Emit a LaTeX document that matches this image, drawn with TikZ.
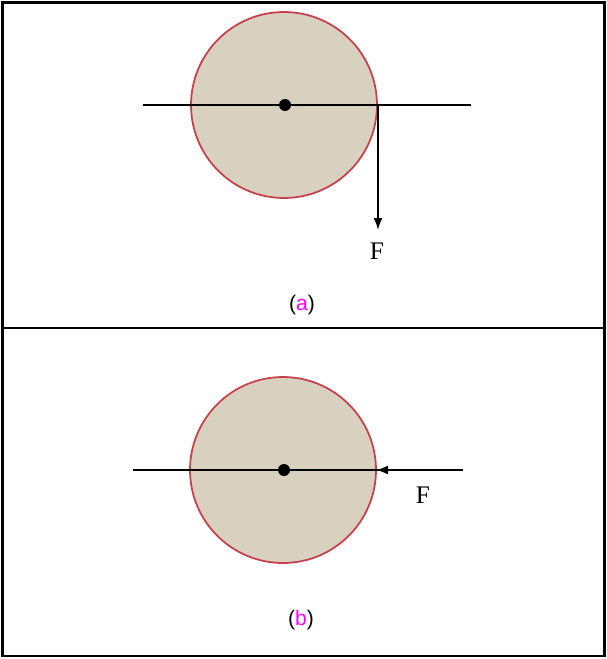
\documentclass[tikz,border=0pt]{standalone}
\usepackage{fontspec}
\setmainfont{Liberation Sans}
\newfontfamily\forcefont{Liberation Serif}
\usepackage{tikz}
\usetikzlibrary{arrows.meta}
\definecolor{diskfill}{HTML}{D8D1C0}
\definecolor{diskrim}{HTML}{C8404C}
\definecolor{tagpink}{HTML}{FF00FF}

\begin{document}
\begin{tikzpicture}[x=0.02cm,y=-0.02cm,font=\small]
  \tikzset{
    disk/.style={circle,fill=diskfill,draw=diskrim,line width=1pt,
                 minimum size=3.72cm,inner sep=0pt},
    pivot/.style={circle,fill=black,minimum size=0.24cm,inner sep=0pt},
    axis/.style={line width=1.1pt},
    force/.style={line width=1.1pt,-{Latex[length=2.4mm,width=1.8mm]}},
    flabel/.style={font=\forcefont\Large},
    caption/.style={font=\large}
  }
  \useasboundingbox (0,0) rectangle (606,659);
  \draw[line width=1.6pt] (2.5,2.5) rectangle (604.5,656);
  \draw[line width=1.6pt] (2.5,328) -- (604.5,328);

  % panel (a)
  \node[disk] (diskA) at (284,105) {};
  \node[pivot] (pivotA) at (285,105) {};
  \coordinate (axisAl) at (143,105);
  \coordinate (axisAr) at (471,105);
  \coordinate (touchA) at (378,105);
  \coordinate (tipA) at (378,230);
  \draw[axis] (axisAl) -- (axisAr);
  \draw[force] (touchA) -- (tipA);
  \node[flabel] (forceA) at (377,251) {F};
  \node[caption] (capA) at (302,305) {(\textcolor{tagpink}{a})};

  % panel (b)
  \node[disk] (diskB) at (283,470) {};
  \node[pivot] (pivotB) at (284,470) {};
  \coordinate (axisBl) at (133,470);
  \coordinate (axisBr) at (463,470);
  \coordinate (tipB) at (376,470);
  \draw[axis] (axisBl) -- (axisBr);
  \draw[force] (axisBr) -- (tipB);
  \node[flabel] (forceB) at (423,495) {F};
  \node[caption] (capB) at (301,620) {(\textcolor{tagpink}{b})};
\end{tikzpicture}
\end{document}
